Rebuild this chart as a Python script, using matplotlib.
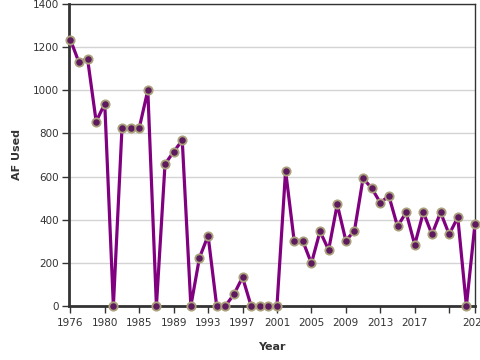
import matplotlib
matplotlib.use("Agg")
import matplotlib.pyplot as plt

years = list(range(1976, 1981)) + list(range(1982, 2025))
af_used = [1235, 1130, 1147, 855, 938, 0, 824, 824, 824, 1000,
           0, 658, 715, 768, 0, 224, 326, 0, 0, 54,
           133, 0, 0, 0, 0, 627, 301, 301, 198, 346,
           260, 471, 303, 349, 592, 546, 479, 510, 369, 434,
           284, 434, 332, 434, 332, 411, 0, 382]
yticks = [0, 200, 400, 600, 800, 1000, 1200, 1400]

plt.rcParams['font.family'] = ['DejaVu Sans']
fig = plt.figure(figsize=(4.8, 3.6), dpi=100)
ax = fig.add_axes([0.1438, 0.15, 0.8458, 0.8389])

idx = list(range(len(years)))
ax.plot(idx, af_used, color='#800080', lw=2.3, zorder=3, clip_on=False,
        marker='o', markersize=6, markerfacecolor='#5e1a5e',
        markeredgecolor='#aaa27c', markeredgewidth=1.3)

ax.set_xlim(-0.15, len(years) - 1)
ax.set_ylim(0, 1400)
ax.set_yticks(yticks)
ax.set_yticklabels([str(v) for v in yticks])

tick_pos = list(range(0, len(years), 4)) + [len(years) - 1]
tick_lab = []
for i in tick_pos:
    if i == 44:
        tick_lab.append('')
    else:
        tick_lab.append(str(years[i]))
ax.set_xticks(tick_pos)
ax.set_xticklabels(tick_lab)

ax.grid(axis='y', color='#d4d4d4', lw=1)
ax.set_axisbelow(True)
for s in ['left', 'bottom']:
    ax.spines[s].set_linewidth(2)
    ax.spines[s].set_color('#333333')
for s in ['top', 'right']:
    ax.spines[s].set_linewidth(1)
    ax.spines[s].set_color('#333333')
ax.tick_params(axis='both', labelsize=7.5, colors='#333333', length=5, width=1)
ax.tick_params(axis='x', pad=4)
ax.tick_params(axis='y', pad=2)

ax.set_xlabel('Year', fontsize=8, fontweight='bold', color='#333333', labelpad=10)
ax.set_ylabel('AF Used', fontsize=8, fontweight='bold', color='#333333', labelpad=8)

fig.savefig('out.png', dpi=100)
